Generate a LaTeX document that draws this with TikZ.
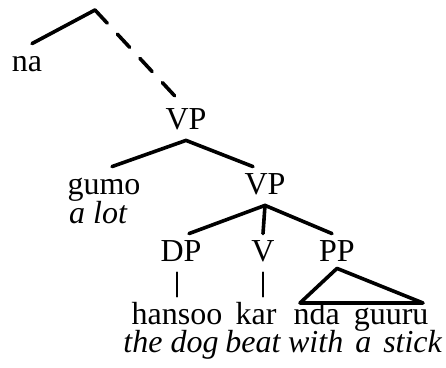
\documentclass[tikz,border=0pt]{standalone}
\usepackage{fontspec}
\setmainfont{Liberation Serif}
\begin{document}
\begin{tikzpicture}[x=0.5pt, y=-0.5pt, line cap=round, line join=round,
    font=\fontsize{16}{19}\selectfont,
    lbl/.style={anchor=base, inner xsep=0pt, inner ysep=3pt, text height=11pt, text depth=2pt},
    gl/.style={lbl, inner ysep=0pt, text height=8pt, font=\fontsize{16}{19}\selectfont\itshape},
    wide/.style={execute at begin node={\spaceskip=#1\relax}},
    branch/.style={line width=1.8pt},
    stem/.style={line width=1pt}]
  \useasboundingbox (0,0) rectangle (446,368);
  % category labels and words
  \node[lbl] (na) at (27,72) {na};
  \node[lbl] (vpa) at (186,130) {VP};
  \node[lbl] (gumo) at (104,195) {gumo};
  \node[gl] (alot) at (98,224) {a lot};
  \node[lbl] (vpb) at (265,195) {VP};
  \node[lbl] (dp) at (181,262) {DP};
  \node[lbl] (v) at (263,262) {V};
  \node[lbl] (pp) at (337,262) {PP};
  \node[lbl] (hansoo) at (177,325) {hansoo};
  \node[lbl] (kar) at (256,325) {kar};
  \node[lbl, wide=7pt] (ndaguuru) at (361,325) {nda guuru};
  \node[gl] (thedog) at (171,353) {the dog};
  \node[gl] (beat) at (253,353) {beat};
  \node[gl, wide=6pt] (withastick) at (365,353) {with a stick};
  % branches
  \coordinate (top) at (95,10);
  \draw[branch] ([xshift=2.5pt]na.north) -- (top);
  \draw[branch, dash pattern=on 9pt off 7.5pt] (top) -- ([xshift=-3pt]vpa.north);
  \draw[branch] ([xshift=4pt]gumo.north) -- (vpa.south) -- ([xshift=-6pt]vpb.north);
  \draw[branch] ([xshift=4pt]dp.north) -- (vpb.south) -- ([xshift=-2.5pt]pp.north);
  \draw[branch] (vpb.south) -- (v.north);
  \draw[stem] ([xshift=-2pt]dp.south) -- ([xshift=-2pt]dp.south |- hansoo.north);
  \draw[stem] (v.south) -- (v.south |- kar.north);
  % triangle over PP
  \coordinate (tl) at (300,303);
  \coordinate (tr) at (423,303);
  \draw[branch] (tl) -- ([yshift=2pt]pp.south) -- (tr) -- cycle;
\end{tikzpicture}
\end{document}
